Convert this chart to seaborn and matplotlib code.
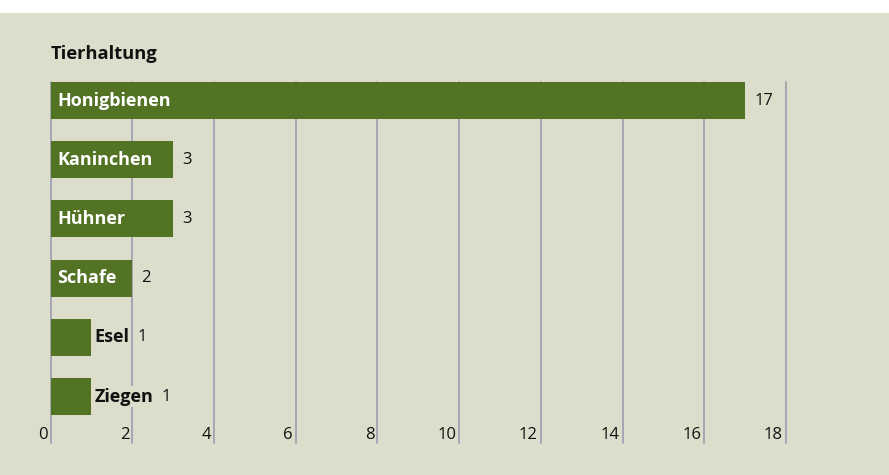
import matplotlib
matplotlib.use("Agg")
import matplotlib.pyplot as plt
import matplotlib.transforms as mtransforms
from matplotlib.patches import Rectangle
import seaborn as sns
import pandas as pd

title = "Tierhaltung"
categories = ["Honigbienen", "Kaninchen", "Hühner", "Schafe", "Esel", "Ziegen"]
values = [17, 3, 3, 2, 1, 1]
xticks = [0, 2, 4, 6, 8, 10, 12, 14, 16, 18]

BG = "#dcdecb"
BAR = "#527224"
GRID = "#a0a3b2"
FONT = "Open Sans"

sns.set_theme(style="white")
plt.rcParams["font.family"] = [FONT, "DejaVu Sans"]

W, H = 889, 475
fig = plt.figure(figsize=(W / 100, H / 100), dpi=100)
fig.patch.set_facecolor("white")
fig.patches.append(Rectangle((0, 0), 1, (H - 13) / H, transform=fig.transFigure,
                             facecolor=BG, edgecolor="none", zorder=-10))

left, right, top, bottom = 50.5, 786, 82, 443
ax = fig.add_axes([left / W, (H - bottom) / H, (right - left) / W, (bottom - top) / H])
ax.set_facecolor("none")

df = pd.DataFrame({"cat": categories, "val": values})
sns.barplot(data=df, x="val", y="cat", color=BAR, width=0.625, saturation=1,
            orient="h", ax=ax, zorder=3, edgecolor="none", linewidth=0)

ax.set_xlim(0, 18)
ax.set_ylim(5.785, -0.3125)
for s in ax.spines.values():
    s.set_visible(False)
ax.set_xticks([])
ax.set_yticks([])
ax.set_xlabel("")
ax.set_ylabel("")

LBL = 13
VAL = 12
for t in xticks:
    ax.axvline(t, ymin=0, ymax=1, color=GRID, lw=1.3, zorder=1, clip_on=False)
    tr = mtransforms.offset_copy(ax.get_xaxis_transform(), fig=fig, x=-3, y=0, units="dots")
    ax.text(t, 0, str(t), transform=tr, ha="right", va="bottom", fontsize=VAL,
            color="#111111", zorder=2)

for i, (c, v) in enumerate(zip(categories, values)):
    if v >= 2:
        tr = mtransforms.offset_copy(ax.transData, fig=fig, x=7, y=0, units="dots")
        ax.text(0, i, c, transform=tr, ha="left", va="center", fontsize=LBL,
                fontweight="bold", color="white", zorder=4)
        tr2 = mtransforms.offset_copy(ax.transData, fig=fig, x=9, y=0, units="dots")
        ax.text(v, i, str(v), transform=tr2, ha="left", va="center", fontsize=VAL,
                color="#111111", zorder=4)
    else:
        tr = mtransforms.offset_copy(ax.transData, fig=fig, x=3, y=0, units="dots")
        lab = ax.text(v, i, c, transform=tr, ha="left", va="center", fontsize=LBL,
                      fontweight="bold", color="#111111", zorder=4,
                      bbox=dict(facecolor=BG, edgecolor="none", pad=1))
        ax.annotate(str(v), xy=(1, 0.5), xycoords=lab, xytext=(6, 0),
                    textcoords="offset points", ha="left", va="center",
                    fontsize=VAL, color="#111111", zorder=4)

fig.text(51 / W, (H - 59) / H, title, ha="left", va="baseline", fontsize=13.2,
         fontweight="bold", color="#111111")

fig.savefig("out.png", dpi=100, facecolor=fig.get_facecolor())
